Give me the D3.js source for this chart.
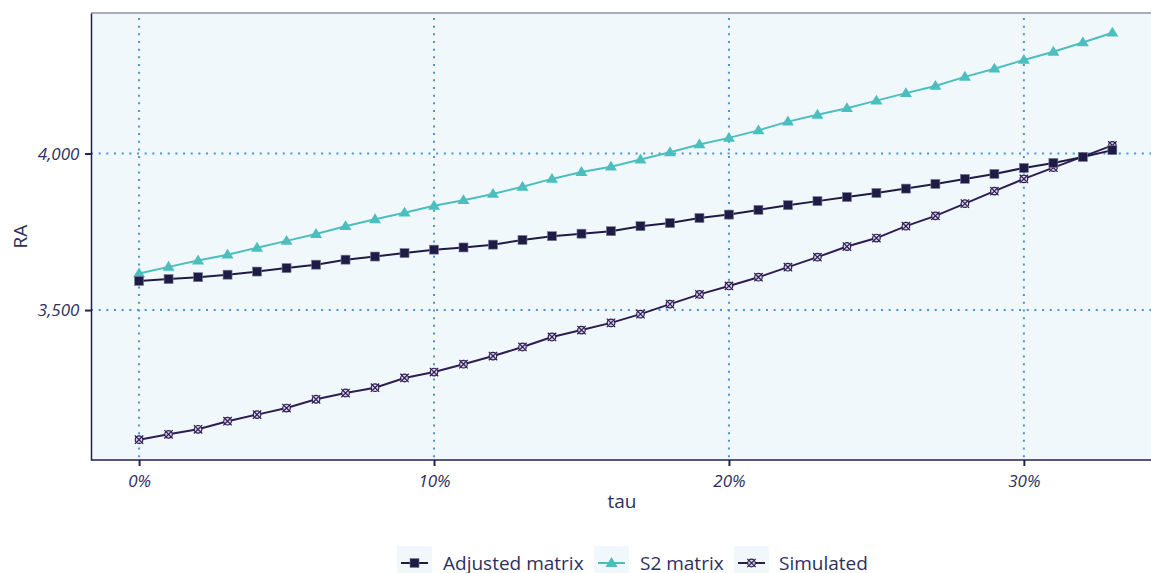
<!DOCTYPE html>
<html><head><meta charset="utf-8">
<script src="https://cdn.jsdelivr.net/npm/d3@7"></script>
<style>
body{margin:0;background:#fff;}
svg{display:block;font-family:"Open Sans","Noto Sans",sans-serif;}
</style></head>
<body><svg id="c" width="1151" height="573"></svg>
<script>
const tau = d3.range(0, 34).map(i => i / 100);
const adjusted = [3593,3599,3605,3613,3623,3634,3645,3661,3671,3682,3693,3700,3709,3724,3736,3744,3752,3768,3778,3794,3805,3820,3835,3848,3861,3874,3888,3903,3919,3935,3954,3970,3989,4011];
const s2 = [3617,3638,3658,3677,3699,3721,3743,3768,3790,3811,3833,3851,3871,3894,3919,3941,3958,3981,4004,4029,4050,4074,4102,4124,4145,4169,4193,4216,4245,4271,4299,4325,4355,4386];
const simulated = [3086,3103,3119,3145,3166,3187,3215,3235,3252,3283,3302,3327,3353,3382,3414,3436,3459,3487,3519,3550,3577,3605,3637,3669,3703,3730,3768,3801,3840,3880,3919,3955,3990,4026];
const xTicks = [0, 0.1, 0.2, 0.3];
const yTicks = [3500, 4000];
const seriesNames = ["Adjusted matrix", "S2 matrix", "Simulated"];

const svg = d3.select("#c");
const L = 91, R = 1151, T = 13, B = 460;
const x = d3.scaleLinear().domain([-0.0163, 0.3431]).range([L, R]);
const y = d3.scaleLinear().domain([3021, 4449]).range([B, T]);

svg.append("rect").attr("x", L).attr("y", T).attr("width", R - L).attr("height", B - T).attr("fill", "#F1F8FC");
svg.append("line").attr("x1", L).attr("x2", R).attr("y1", T).attr("y2", T).attr("stroke", "#8D90A6").attr("stroke-width", 1.5);

const grid = svg.append("g");
const gridStyle = s => s.attr("stroke", "#4C93D6").attr("stroke-width", 2).attr("stroke-dasharray", "2,5.67");
xTicks.forEach(t => gridStyle(grid.append("line").attr("x1", x(t)).attr("x2", x(t)).attr("y1", T + 5).attr("y2", B)));
yTicks.forEach(t => gridStyle(grid.append("line").attr("x1", L).attr("x2", R).attr("y1", y(t)).attr("y2", y(t))));

const axColor = "#22224A";
const xAxis = svg.append("g").attr("transform", `translate(0,${B})`)
  .call(d3.axisBottom(x).tickValues(xTicks).tickFormat(d3.format(".0%")).tickSize(6).tickSizeOuter(0));
const yAxis = svg.append("g").attr("transform", `translate(${L},0)`)
  .call(d3.axisLeft(y).tickValues(yTicks).tickFormat(d3.format(",")).tickSize(6).tickSizeOuter(0));
[xAxis, yAxis].forEach(a => {
  a.attr("font-size", null).attr("font-family", null);
  a.select(".domain").attr("stroke", axColor).attr("stroke-width", 1.5);
  a.selectAll(".tick line").attr("stroke", axColor).attr("stroke-width", 2);
  a.selectAll(".tick text").attr("fill", "#2E3060").style("font-size", "17px").style("font-style", "italic");
});
xAxis.selectAll(".tick text").attr("dy", "1.05em");
yAxis.selectAll(".tick text").attr("dx", "-0.15em");
xAxis.select(".domain").attr("d", `M${L},0H${R}`);

svg.append("text").attr("x", (L + R) / 2 + 1).attr("y", 508).attr("text-anchor", "middle").attr("fill", "#2E3060").style("font-size", "19px").text("tau");
svg.append("text").attr("transform", `translate(27,${(T + B) / 2}) rotate(-90)`).attr("text-anchor", "middle").attr("fill", "#2E3060").style("font-size", "19px").text("RA");

const colors = {adj: "#1E1C45", s2: "#4BBFBD", sim: "#2D1D52"};
const line = d3.line().x((d, i) => x(tau[i])).y(d => y(d));

function drawSquare(g, cx, cy) {
  g.append("rect").attr("x", cx - 4.5).attr("y", cy - 4.5).attr("width", 9).attr("height", 9).attr("fill", colors.adj).attr("stroke", "#7C7A98").attr("stroke-width", 0.6);
}
function drawTri(g, cx, cy) {
  const s = 6;
  g.append("path").attr("d", `M${cx},${cy - s}L${cx + s},${cy + s * 0.65}L${cx - s},${cy + s * 0.65}Z`).attr("fill", colors.s2);
}
function drawSim(g, cx, cy) {
  g.append("circle").attr("cx", cx).attr("cy", cy).attr("r", 3.8).attr("fill", "#D8D2E6").attr("stroke", colors.sim).attr("stroke-width", 1.2);
  g.append("path").attr("d", `M${cx - 4.2},${cy - 4.2}L${cx + 4.2},${cy + 4.2}M${cx + 4.2},${cy - 4.2}L${cx - 4.2},${cy + 4.2}`).attr("stroke", colors.sim).attr("stroke-width", 1.2);
}

const plot = svg.append("g");
function series(data, color, marker) {
  plot.append("path").datum(data).attr("d", line).attr("fill", "none").attr("stroke", color).attr("stroke-width", 2);
  const g = plot.append("g");
  data.forEach((d, i) => marker(g, x(tau[i]), y(d)));
}
series(s2, colors.s2, drawTri);
series(simulated, colors.sim, drawSim);
series(adjusted, colors.adj, drawSquare);

// legend
const legend = svg.append("g");
const items = [
  {name: seriesNames[0], color: colors.adj, m: drawSquare, bx: 397, tx: 443},
  {name: seriesNames[1], color: colors.s2, m: drawTri, bx: 594, tx: 640},
  {name: seriesNames[2], color: colors.sim, m: drawSim, bx: 734, tx: 779}
];
items.forEach(it => {
  legend.append("rect").attr("x", it.bx).attr("y", 546).attr("width", 35).attr("height", 32).attr("fill", "#F1F8FC");
  legend.append("line").attr("x1", it.bx + 4).attr("x2", it.bx + 31).attr("y1", 563).attr("y2", 563).attr("stroke", it.color).attr("stroke-width", 2);
  it.m(legend, it.bx + 17.5, 563);
  legend.append("text").attr("x", it.tx).attr("y", 570).attr("fill", "#2E3060").style("font-size", "19px").text(it.name);
});
</script></body></html>
